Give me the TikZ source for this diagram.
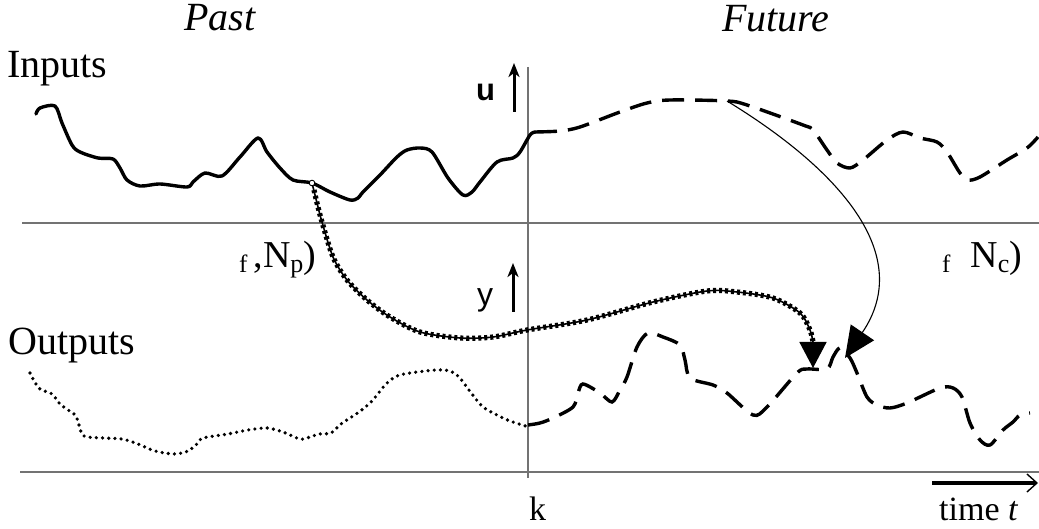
\documentclass[tikz,border=0pt]{standalone}
\usepackage{fontspec}
\setmainfont{Liberation Serif}
\newfontfamily\sansf{Liberation Sans}
\usetikzlibrary{arrows.meta}
\newcommand\fsz[1]{\fontsize{#1}{#1}\selectfont}
\tikzset{
  axisline/.style={draw=black!55,line width=1.3pt},
  solidcurve/.style={line width=3.4pt,line join=round,line cap=round},
  dashcurve/.style={line width=3.4pt,dash pattern=on 22pt off 11pt},
  dotcurve/.style={line width=3.6pt,line cap=round,dash pattern=on 0pt off 6.2pt},
  chainthin/.style={line width=1.6pt},
  chainthick/.style={line width=5.2pt,dash pattern=on 3pt off 3pt},
  axisarrow/.style={line width=3pt,-{Stealth[length=14pt,width=11pt,inset=4pt]}},
  lbl/.style={inner sep=0pt,anchor=base west},
}
\begin{document}
\begin{tikzpicture}[x=1pt,y=-1pt]
\useasboundingbox (0,0) rectangle (1039,529);
% axes
\coordinate (tl) at (22,223);
\coordinate (tr) at (1039,223);
\coordinate (bl) at (20,472);
\coordinate (br) at (1039,472);
\coordinate (vt) at (528,67);
\coordinate (vb) at (528,478);
\draw[axisline] (tl) -- (tr);
\draw[axisline] (bl) -- (br);
\draw[axisline] (vt) -- (vb);
% texts
\node[lbl,anchor=base,font=\fsz{40}\itshape] (past) at (220,31) {Past};
\node[lbl,anchor=base,font=\fsz{40}\itshape] (future) at (776,32) {Future};
\node[lbl,font=\fsz{40}] (inputs) at (7,78) {Inputs};
\node[lbl,font=\fsz{40}] (outputs) at (8,355) {Outputs};
\node[lbl,font=\fsz{31}\sansf\bfseries] (ulab) at (476,101) {u};
\node[lbl,font=\fsz{32}\sansf] (ylab) at (477,306) {y};
\node[lbl,font=\fsz{34}] (klab) at (529,520) {k};
\node[lbl,font=\fsz{34}] (tlab) at (939,520) {time \textit{t}};
\node[lbl] (np) at (239,268) {\raisebox{-5pt}{\fsz{25}f}\hspace{6pt}{\fsz{38},N}\raisebox{-5pt}{\fsz{26}p}{\fsz{38})}};
\node[lbl] (nc) at (942,268) {\raisebox{-5pt}{\fsz{25}f}\hspace{20pt}{\fsz{38}N}\raisebox{-5pt}{\fsz{26}c}{\fsz{38})}};
% axis arrows
\coordinate (ua0) at (514,112); \coordinate (ua1) at (514,63);
\coordinate (ya0) at (513,312); \coordinate (ya1) at (513,263);
\draw[axisarrow] (ua0) -- (ua1);
\draw[axisarrow] (ya0) -- (ya1);
\coordinate (ta0) at (932,483); \coordinate (ta1) at (1038,483);
\draw[line width=3.2pt,-{Straight Barb[length=10pt,width=18pt,line width=1.4pt]}] (ta0) -- (ta1);
% input past (solid)
\draw[solidcurve] plot[smooth,tension=0.5] coordinates {(36,114) (40,108) (55,106) (62,123) (72,145) (80,152) (98,158) (113,159) (120,168) (127,180) (140,186) (160,184) (187,187) (193,182) (205,173) (222,176) (240,157) (258,138) (267,152) (280,168) (293,180) (312,183) (330,192) (350,200) (358,198) (363,192) (380,175) (397,157) (407,150) (420,148) (432,152) (448,178) (463,195) (472,192) (480,182) (497,162) (513,158) (520,152) (530,135) (535,132)};
% input future (dashed)
\draw[dashcurve] plot[smooth,tension=0.5] coordinates {(535,132) (560,131) (580,127) (620,112) (647,103) (670,100) (727,101) (747,105) (803,125) (813,130) (827,150) (837,163) (850,168) (863,160) (887,140) (903,132) (920,138) (937,142) (947,152) (960,173) (968,180) (980,177) (1007,160) (1027,148) (1038,137)};
% output past (dotted)
\draw[dotcurve] plot[smooth,tension=0.5] coordinates {(30,373) (33,379) (40,389) (52,394) (60,404) (71,412) (76,416) (79,425) (84,436) (103,438) (122,439) (138,444) (155,451) (174,454) (188,451) (198,443) (203,438) (228,434) (248,430) (267,428) (283,432) (300,439) (310,437) (319,434) (331,433) (341,424) (359,412) (372,401) (386,384) (397,376) (410,373) (436,370) (450,371) (459,377) (472,394) (483,407) (497,415) (510,421) (529,427)};
% output future (dashed)
\draw[dashcurve] plot[smooth,tension=0.5] coordinates {(528,425) (540,423) (553,418) (573,407) (578,393) (583,384) (600,393) (612,402) (620,390) (627,377) (637,347) (648,333) (663,337) (680,345) (685,360) (690,378) (713,385) (727,393) (753,415) (767,407) (797,373) (807,369) (827,369) (833,357) (840,348) (850,358) (857,373) (867,397) (877,405) (890,408) (907,403) (940,388) (953,388) (962,397) (970,423) (980,440) (990,445) (1003,430) (1013,422) (1020,415) (1030,413)};
% chain arrow from past input to future output
\coordinate (ps) at (312,183);
\coordinate (pm) at (813,342);
\coordinate (pe) at (813,368);
\draw[chainthin] plot[smooth,tension=0.5] coordinates {(ps) (317,203) (322,222) (333,257) (347,280) (367,300) (390,317) (420,332) (460,338) (493,337) (527,330) (587,320) (653,302) (707,291) (737,292) (773,298) (800,313) (810,330) (pm)};
\draw[chainthick] plot[smooth,tension=0.5] coordinates {(314,190) (317,203) (322,222) (333,257) (347,280) (367,300) (390,317) (420,332) (460,338) (493,337) (527,330) (587,320) (653,302) (707,291) (737,292) (773,298) (800,313) (810,330) (pm)};
\draw[line width=1.6pt,-{Triangle[length=26pt,width=27pt]}] (pm) -- (pe);
\draw[line width=0.9pt,fill=white] (ps) circle (2.8pt);
% thin arrow from future input to future output
\coordinate (fs) at (727,101);
\coordinate (fe) at (845,358);
\draw[line width=1.1pt,-{Triangle[length=31pt,width=28pt]}] (fs) .. controls (840,170) and (915,255) .. (fe);
\end{tikzpicture}
\end{document}
